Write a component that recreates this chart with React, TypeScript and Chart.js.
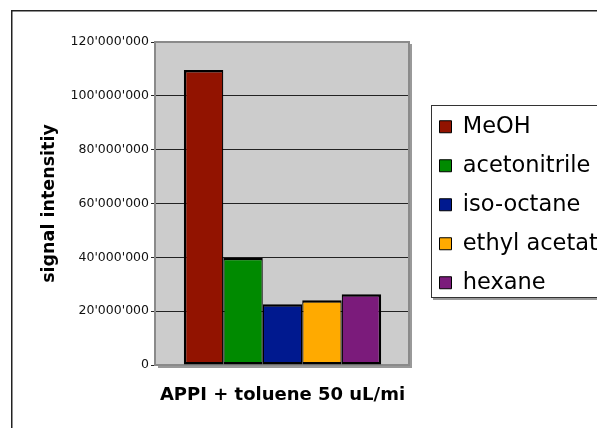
import React, { useEffect, useRef } from "react";
import { Chart, registerables } from "chart.js";

Chart.register(...registerables);

// ---- data ----
const categories = ["APPI + toluene 50 uL/mi"];
const seriesNames = ["MeOH", "acetonitrile", "iso-octane", "ethyl acetate", "hexane"];
const seriesValues = [109600000, 39800000, 22600000, 24100000, 26300000];
const seriesColors = ["#921300", "#008a00", "#00198f", "#ffaa00", "#7b1b7b"];
const yMin = 0;
const yMax = 120000000;
const yStep = 20000000;
const yTitle = "signal intensitiy";

const FONT = "'DejaVu Sans', Verdana, sans-serif";

const fmt = (v: number) => String(Math.round(v)).replace(/\B(?=(\d{3})+(?!\d))/g, "'");

const decor = {
  id: "decor",
  beforeDraw(chart: any) {
    const { ctx, chartArea: a } = chart;
    ctx.save();
    // outer frame
    ctx.strokeStyle = "#222";
    ctx.lineWidth = 1.5;
    ctx.strokeRect(11.75, 10.75, 3000, 3000);
    // plot background
    ctx.fillStyle = "#cccccc";
    ctx.fillRect(a.left, a.top, a.right - a.left, a.bottom - a.top);
    // legend box
    const bx = a.right + 22;
    const by = a.top + 63;
    const bh = 193;
    ctx.fillStyle = "#9a9a9a";
    ctx.fillRect(bx + 2, by + 2, 3000, bh);
    ctx.fillStyle = "#ffffff";
    ctx.fillRect(bx, by, 3000, bh);
    ctx.strokeStyle = "#333";
    ctx.lineWidth = 1;
    ctx.strokeRect(bx + 0.5, by + 0.5, 3000, bh - 1);
    ctx.restore();
    const lg = chart.legend;
    if (lg) {
      lg.left = a.right + 14;
      lg.top = a.top + 57;
      lg.right = lg.left + 1000;
      lg.bottom = lg.top + 1000;
      lg.width = 1000;
      lg.height = 1000;
    }
  },
  beforeDatasetsDraw(chart: any) {
    const { ctx, chartArea: a } = chart;
    ctx.save();
    // shadow right/bottom
    ctx.fillStyle = "#999";
    ctx.fillRect(a.right, a.top + 2, 3, a.bottom - a.top + 1);
    ctx.fillRect(a.left + 2, a.bottom, a.right - a.left + 1, 3);
    ctx.strokeStyle = "#8a8a8a";
    ctx.lineWidth = 2;
    ctx.strokeRect(a.left - 1, a.top, a.right - a.left + 1, a.bottom - a.top);
    ctx.restore();
  },
};

export default function App() {
  const ref = useRef<HTMLCanvasElement | null>(null);
  useEffect(() => {
    if (!ref.current) return;
    const n = seriesNames.length;
    const chart = new Chart(ref.current, {
      type: "bar",
      data: {
        labels: categories,
        datasets: seriesNames.map((name, i) => ({
          label: name,
          data: [seriesValues[i]],
          backgroundColor: seriesColors[i],
          borderColor: "#000",
          borderWidth: { top: 2.5, bottom: 2.5, left: i === 0 ? 2.5 : 1.25, right: i === n - 1 ? 2.5 : 1.25 },
          borderSkipped: false,
          inflateAmount: 0,
          categoryPercentage: 0.78,
          barPercentage: 1,
        })),
      },
      options: {
        animation: false,
        responsive: true,
        maintainAspectRatio: false,
        layout: { padding: { left: 0, top: 42, right: 188, bottom: 0 } },
        plugins: {
          tooltip: { enabled: false },
          legend: {
            display: true,
            position: "chartArea",
            align: "start",
            labels: {
              font: { family: FONT, size: 22.5 },
              color: "#000",
              boxWidth: 12,
              boxHeight: 12,
              padding: 16.5,
              generateLabels: (c: any) =>
                Chart.defaults.plugins.legend.labels.generateLabels(c).map((it: any) => ({
                  ...it,
                  lineWidth: 1,
                  strokeStyle: "#000",
                })),
            },
          },
        },
        scales: {
          x: {
            grid: { display: false, drawTicks: false },
            border: { display: false },
            ticks: {
              font: { family: FONT, size: 18, weight: "bold" },
              color: "#000",
              padding: 20,
              maxRotation: 0,
              autoSkip: false,
            },
            afterFit: (s: any) => {
              s.height = 63;
            },
          },
          y: {
            min: yMin,
            max: yMax,
            ticks: {
              stepSize: yStep,
              font: { family: FONT, size: 12.5 },
              color: "#111",
              padding: 2,
              callback: (v: any) => fmt(Number(v)),
            },
            grid: { color: "#222", lineWidth: 1, drawTicks: true, tickLength: 5 },
            border: { display: false },
            title: {
              display: true,
              text: yTitle,
              font: { family: FONT, size: 17.5, weight: "bold" },
              color: "#000",
              padding: { top: 38.5, bottom: 0 },
            },
            afterFit: (s: any) => {
              s.width = 156;
            },
          },
        },
      },
      plugins: [decor],
    } as any);
    return () => chart.destroy();
  }, []);
  return (
    <div style={{ position: "fixed", left: 0, top: 0, width: 597, height: 428, overflow: "hidden", background: "#fff" }}>
      <canvas ref={ref} />
    </div>
  );
}
